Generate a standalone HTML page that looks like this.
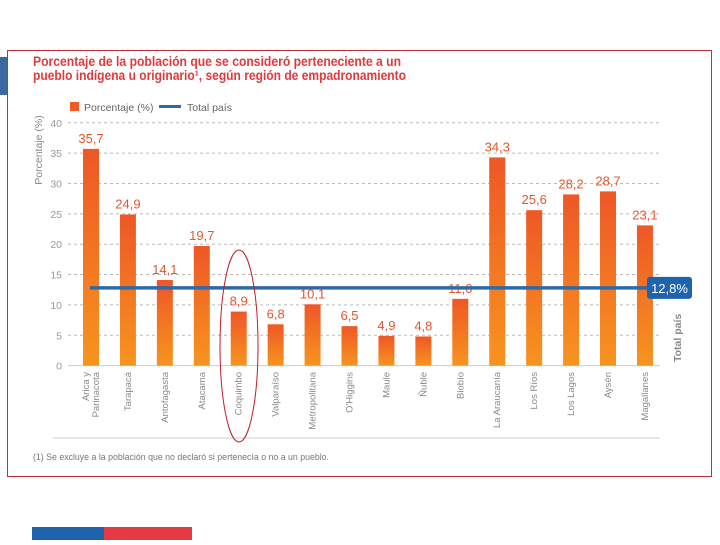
<!DOCTYPE html>
<html><head><meta charset="utf-8"><style>
body{margin:0;width:720px;height:540px;background:#fff;overflow:hidden;font-family:"Liberation Sans",sans-serif}
</style></head><body>
<svg id="chart" width="720" height="540" xmlns="http://www.w3.org/2000/svg">
<defs>
<linearGradient id="bg" x1="0" y1="0" x2="0" y2="1"><stop offset="0" stop-color="#ee5726"/><stop offset="1" stop-color="#f7941f"/></linearGradient>
</defs>
<rect x="0" y="57" width="7" height="38" fill="#3a6aa0"/>
<rect x="7.5" y="50.5" width="704" height="426" fill="#fff" stroke="#c0303a" stroke-width="1"/>
<text x="33" y="66" font-size="13.5" font-weight="bold" fill="#e0393e" textLength="368" lengthAdjust="spacingAndGlyphs">Porcentaje de la población que se consideró perteneciente a un</text>
<text x="33" y="80" font-size="13.5" font-weight="bold" fill="#e0393e" textLength="373" lengthAdjust="spacingAndGlyphs">pueblo indígena u originario¹, según región de empadronamiento</text>
<rect x="70" y="102" width="9" height="9" fill="#ee5a24"/>
<text x="84" y="111" font-size="10.5" fill="#666">Porcentaje (%)</text>
<rect x="159" y="105" width="22" height="3" fill="#2e6aa6"/>
<text x="187" y="111" font-size="10.5" fill="#666">Total país</text>
<text transform="translate(42,150) rotate(-90)" text-anchor="middle" font-size="10.5" fill="#888">Porcentaje (%)</text>
<g id="grid"></g><g id="bars"></g>
<line x1="53" y1="438" x2="660" y2="438" stroke="#ccc"/>
<text x="33" y="460" font-size="9" fill="#777" textLength="296" lengthAdjust="spacingAndGlyphs">(1) Se excluye a la población que no declaró si pertenecía o no a un pueblo.</text>
<ellipse cx="239" cy="346" rx="19" ry="96" fill="none" stroke="#c0202a" stroke-width="1"/>
<rect x="32" y="527" width="72" height="13" fill="#1e64ad"/>
<rect x="104" y="527" width="88" height="13" fill="#e63946"/>
</svg>
<script>
const categories=["Arica y|Parinacota","Tarapacá","Antofagasta","Atacama","Coquimbo","Valparaíso","Metropolitana","O'Higgins","Maule","Ñuble","Biobío","La Araucanía","Los Ríos","Los Lagos","Aysén","Magallanes"];
const values=[35.7,24.9,14.1,19.7,8.9,6.8,10.1,6.5,4.9,4.8,11.0,34.3,25.6,28.2,28.7,23.1];
const totalPais=12.8;
const yTicks=[0,5,10,15,20,25,30,35,40];
const NS="http://www.w3.org/2000/svg";
const y=v=>365.6-v*6.07;
const x=i=>91+i*36.93;
const fmt=v=>v.toFixed(1).replace('.',',');
function mk(t,a,p){const e=document.createElementNS(NS,t);for(const k in a)e.setAttribute(k,a[k]);p.appendChild(e);return e;}
const grid=document.getElementById('grid'),bars=document.getElementById('bars');
yTicks.forEach(t=>{
 const l=mk('line',{x1:68,x2:660,y1:y(t),y2:y(t),stroke:t?'#bbb':'#ccc','stroke-dasharray':t?'3,3':'0'},grid);
 
 
 const tx=mk('text',{x:62,y:y(t)+4,'text-anchor':'end','font-size':10.5,fill:'#999'},grid);tx.textContent=t;
 
 
});
values.forEach((v,i)=>{
 const r=mk('rect',{x:x(i)-8,y:y(v),width:16,height:y(0)-y(v),fill:'url(#bg)'},bars);
 
 
 const t=mk('text',{x:x(i),y:y(v)-6,'text-anchor':'middle','font-size':13,fill:'#e4572e'},bars);t.textContent=fmt(v);
 
 
 const parts=categories[i].split('|');
 parts.forEach((p,j)=>{
  const c=mk('text',{transform:`translate(${x(i)+3+(j-(parts.length-1)/2)*10},372) rotate(-90)`,'text-anchor':'end','font-size':9.5,fill:'#888'},bars);c.textContent=p;
  
  
 });
});
const ln=mk('line',{x1:90,x2:650,y1:y(totalPais),y2:y(totalPais),stroke:'#2e6aa6','stroke-width':3.5},bars);


const bx=mk('rect',{x:647,y:y(totalPais)-11,width:45,height:22,rx:3,fill:'#1e64ad'},bars);


const bt=mk('text',{x:669.5,y:y(totalPais)+5,'text-anchor':'middle','font-size':13,fill:'#fff'},bars);bt.textContent=fmt(totalPais)+'%';


const tp=mk('text',{transform:'translate(681,362) rotate(-90)','font-size':10.5,'font-weight':'bold',fill:'#888'},bars);tp.textContent='Total país';


</script>
</body></html>
